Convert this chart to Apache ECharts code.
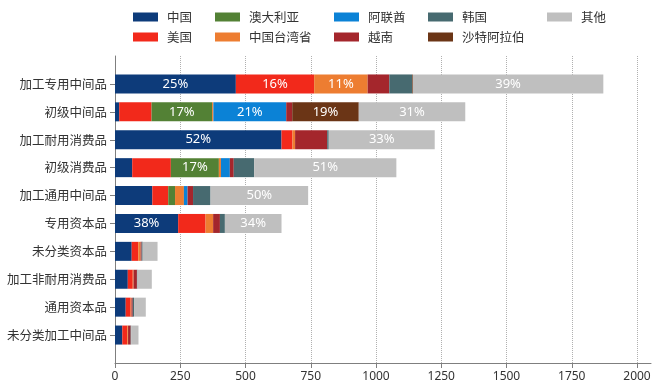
<!DOCTYPE html>
<html>
<head>
<meta charset="utf-8">
<script src="https://cdn.jsdelivr.net/npm/echarts@6/dist/echarts.min.js"></script>
<style>html,body{margin:0;padding:0;background:#fff}#c{width:660px;height:390px}</style>
</head>
<body>
<div id="c"></div>
<script>
const categories = ['加工专用中间品','初级中间品','加工耐用消费品','初级消费品','加工通用中间品','专用资本品','未分类资本品','加工非耐用消费品','通用资本品','未分类加工中间品'];
const seriesNames = ['中国','美国','澳大利亚','中国台湾省','阿联酋','越南','韩国','沙特阿拉伯','其他'];
const chinaValues   = [463, 16, 638, 66, 143, 242, 64, 49, 41, 28];
const usValues      = [300, 124, 42, 148, 61, 105, 25, 19, 19, 19];
const ausValues     = [0, 232, 0, 184, 26, 0, 0, 0, 0, 0];
const taiwanValues  = [205, 5, 10, 8, 34, 29, 9, 3, 3, 3];
const uaeValues     = [0, 279, 0, 34, 14, 0, 0, 0, 0, 0];
const vietnamValues = [83, 23, 123, 15, 21, 26, 4, 13, 5, 10];
const koreaValues   = [87, 0, 6, 78, 67, 19, 4, 2, 5, 2];
const saudiValues   = [3, 255, 0, 0, 0, 0, 0, 0, 0, 0];
const otherValues   = [730, 408, 406, 545, 374, 217, 57, 55, 45, 28];
const chinaLabels   = ['25%','','52%','','','38%','','','',''];
const usLabels      = ['16%','','','','','','','','',''];
const ausLabels     = ['','17%','','17%','','','','','',''];
const taiwanLabels  = ['11%','','','','','','','','',''];
const uaeLabels     = ['','21%','','','','','','','',''];
const vietnamLabels = ['','','','','','','','','',''];
const koreaLabels   = ['','','','','','','','','',''];
const saudiLabels   = ['','19%','','','','','','','',''];
const otherLabels   = ['39%','31%','33%','51%','50%','34%','','','',''];
const xTicks = [0, 250, 500, 750, 1000, 1250, 1500, 1750, 2000];

const allValues = [chinaValues, usValues, ausValues, taiwanValues, uaeValues, vietnamValues, koreaValues, saudiValues, otherValues];
const allLabels = [chinaLabels, usLabels, ausLabels, taiwanLabels, uaeLabels, vietnamLabels, koreaLabels, saudiLabels, otherLabels];
const colors = ['#0d3b7a','#f2291b','#538135','#ed7d31','#0b82d6','#a4262c','#476a70','#6b3516','#bfbfbf'];

const axisColor = '#7f7f7f';
const series = seriesNames.map((name, i) => ({
  name: name,
  type: 'bar',
  stack: 'total',
  xAxisIndex: 2,
  yAxisIndex: 2,
  barWidth: 19,
  itemStyle: { color: colors[i] },
  label: {
    show: true,
    position: 'inside',
    color: '#ffffff',
    fontSize: 13,
    fontFamily: '"Noto Sans", sans-serif',
    formatter: (p) => allLabels[i][p.dataIndex] || ''
  },
  emphasis: { disabled: true },
  data: allValues[i]
}));

const legendCols = [['中国','美国'],['澳大利亚','中国台湾省'],['阿联酋','越南'],['韩国','沙特阿拉伯'],['其他']];
const legendLefts = [133, 215, 334, 428, 547];
const legends = legendCols.map((d, i) => ({
  data: d,
  orient: 'vertical',
  left: legendLefts[i],
  top: 10,
  padding: 0,
  itemGap: 6,
  itemWidth: 25,
  itemHeight: 9,
  icon: 'rect',
  selectedMode: false,
  textStyle: { fontSize: 12.5, color: '#333', fontFamily: '"Noto Sans CJK SC", sans-serif', lineHeight: 14, padding: [0, 0, 0, 4] }
}));

const chart = echarts.init(document.getElementById('c'), null, { renderer: 'canvas' });
chart.setOption({
  animation: false,
  backgroundColor: '#fff',
  legend: legends,
  grid: [
    { left: 115, right: 9, top: 56, bottom: 27 },
    { left: 115, right: 23, top: 56, bottom: 27 },
    { left: 115, right: 23, top: 70, bottom: 41 }
  ],
  xAxis: [
    { gridIndex: 0, type: 'value', min: 0, max: 1, axisLine: { show: true, lineStyle: { color: axisColor } }, axisTick: { show: false }, axisLabel: { show: false }, splitLine: { show: false } },
    { gridIndex: 1, type: 'value', min: xTicks[0], max: xTicks[xTicks.length - 1], interval: xTicks[1] - xTicks[0],
      axisLine: { show: false }, axisTick: { show: true, length: 5, lineStyle: { color: axisColor } },
      axisLabel: { color: '#333', fontSize: 12, fontFamily: '"Noto Sans", sans-serif', margin: 8, formatter: (v) => String(v) },
      splitLine: { show: true, lineStyle: { type: 'dotted', color: '#b0b0b0' } } },
    { gridIndex: 2, type: 'value', min: xTicks[0], max: xTicks[xTicks.length - 1], show: false }
  ],
  yAxis: [
    { gridIndex: 0, type: 'value', min: 0, max: 1, axisLine: { show: true, lineStyle: { color: axisColor } }, axisTick: { show: false }, axisLabel: { show: false }, splitLine: { show: false } },
    { gridIndex: 1, type: 'value', min: 0, max: 1, show: false },
    { gridIndex: 2, type: 'category', data: categories, inverse: true,
      axisLine: { show: false }, axisTick: { show: true, alignWithLabel: true, length: 5, lineStyle: { color: axisColor } },
      axisLabel: { color: '#333', fontSize: 12.5, fontFamily: '"Noto Sans CJK SC", sans-serif', margin: 8 } }
  ],
  series: series
});
</script>
</body>
</html>
